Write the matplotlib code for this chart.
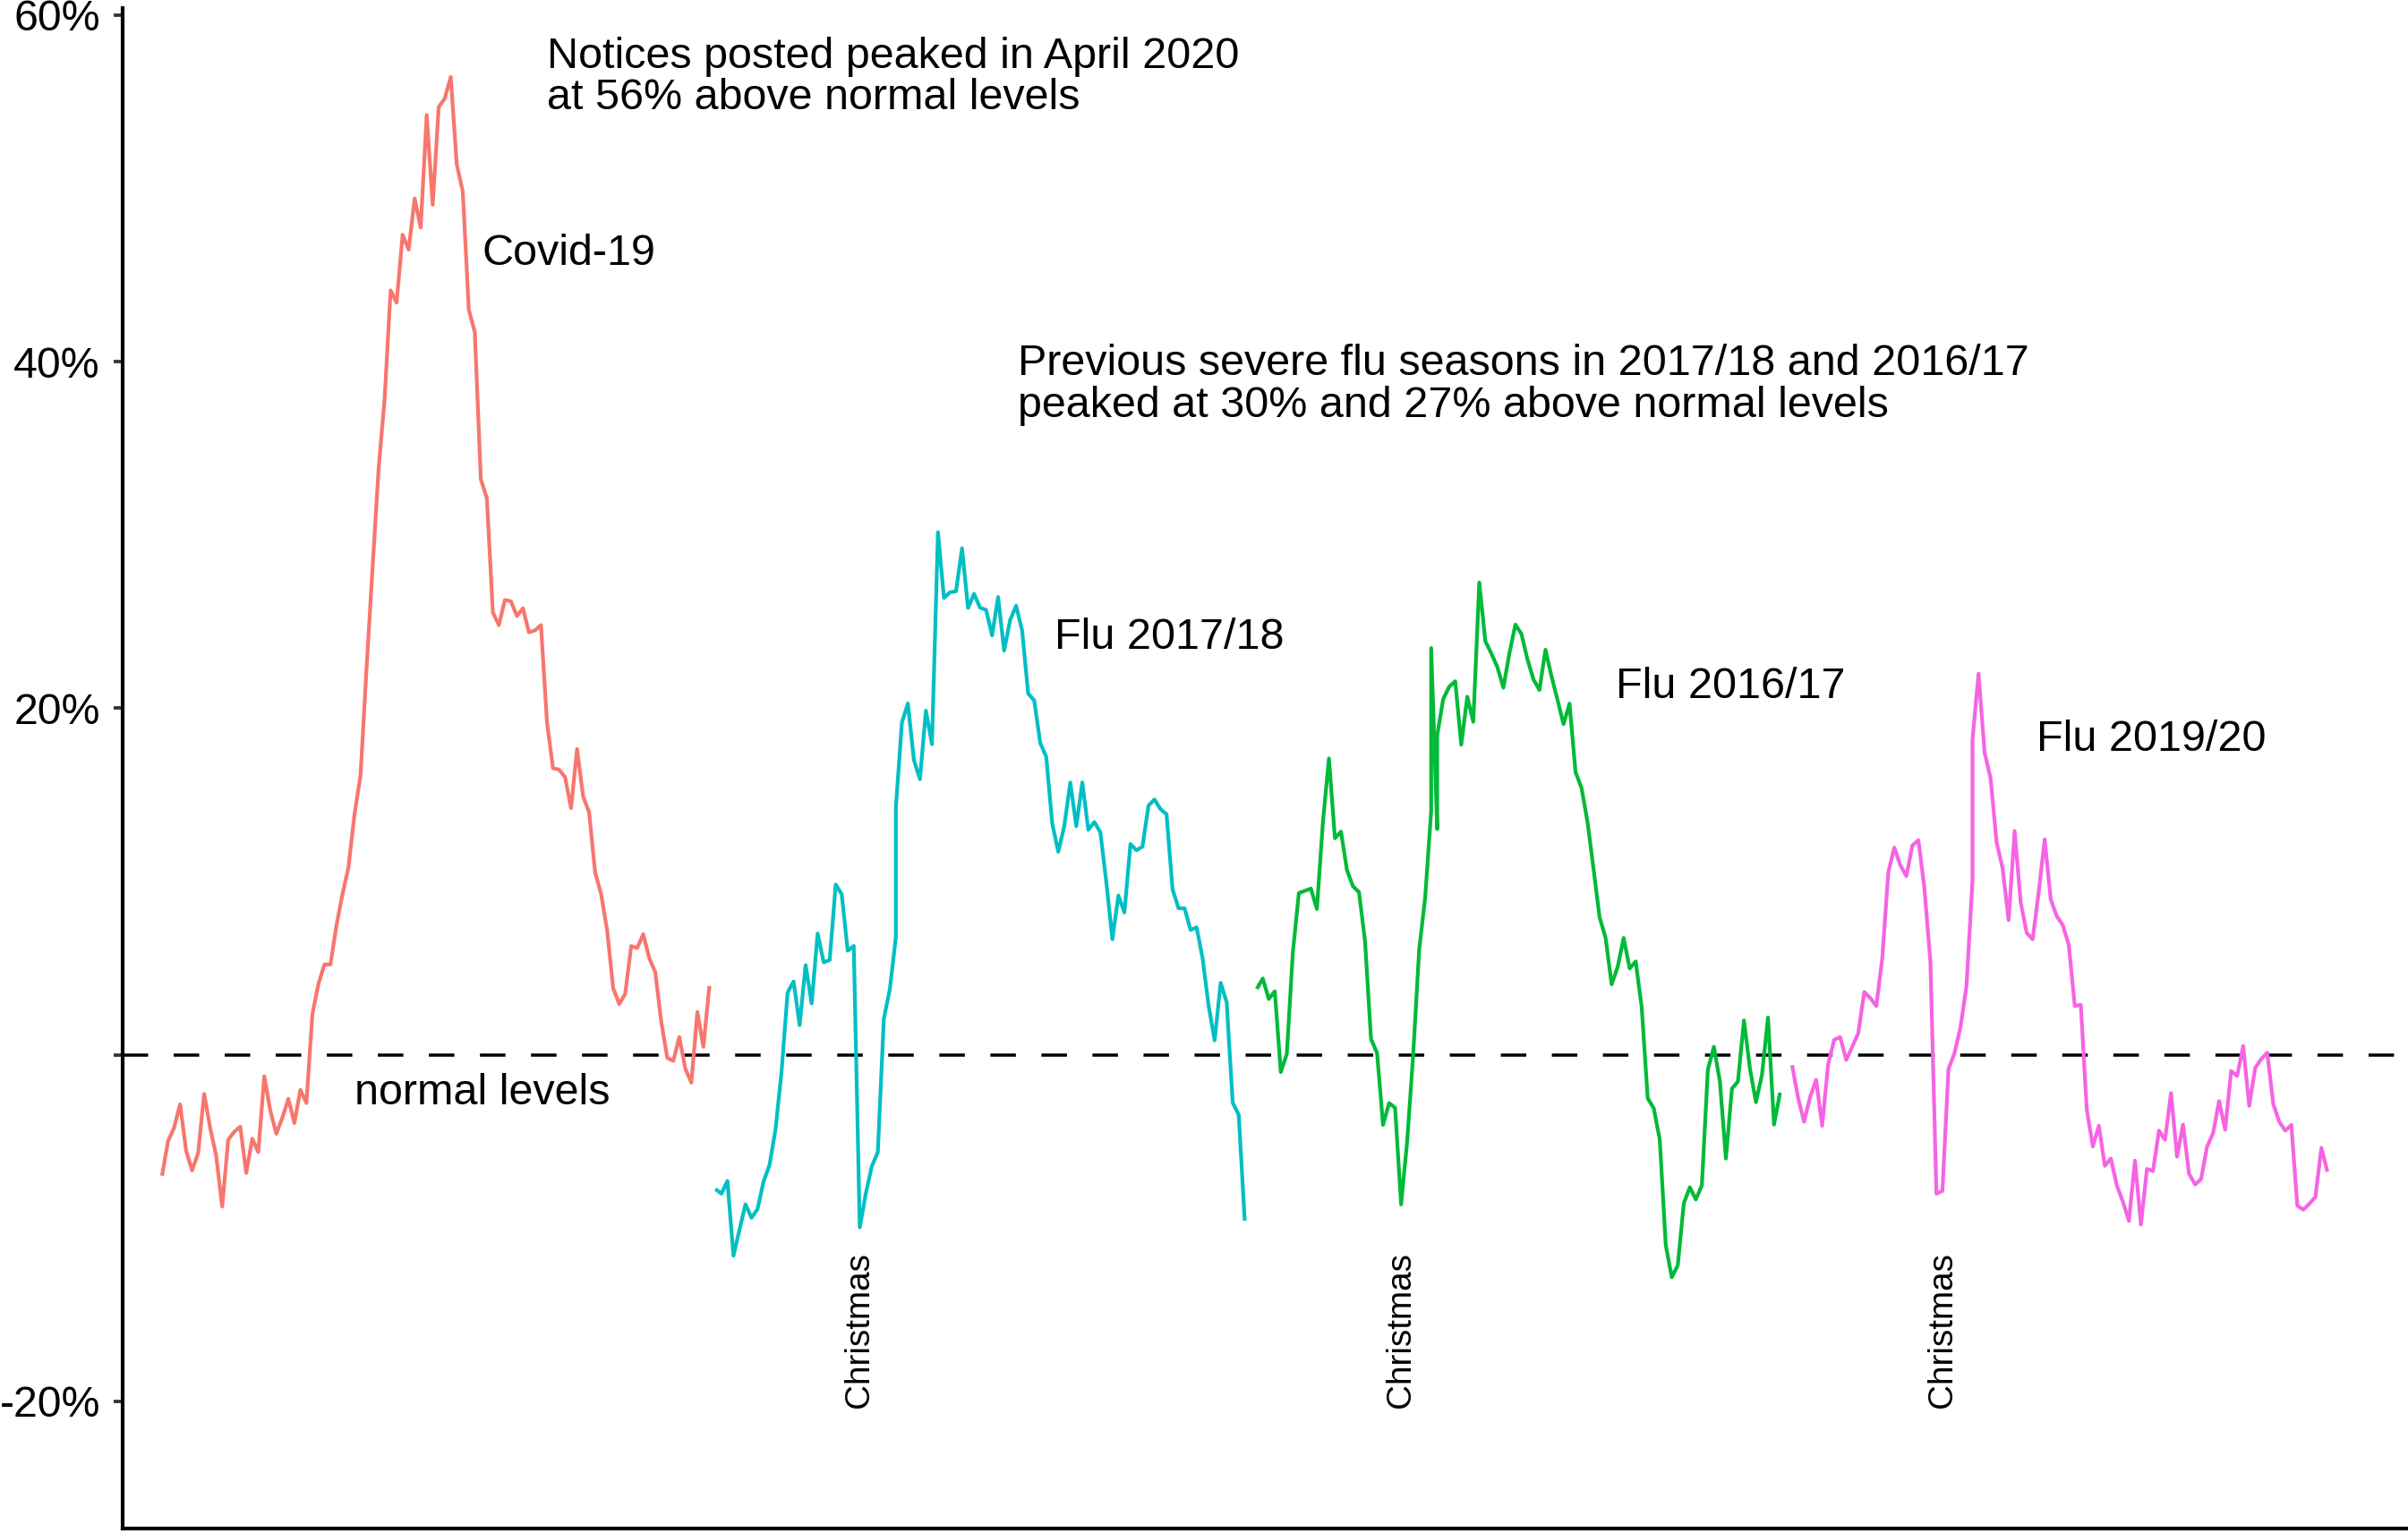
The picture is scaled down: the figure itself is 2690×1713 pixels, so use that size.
import numpy as np
import matplotlib
matplotlib.use("Agg")
import matplotlib.pyplot as plt

plt.rcParams['font.family'] = ['Liberation Sans', 'DejaVu Sans']

# ---------------- data (percent above normal levels) ----------------
covid_day = np.arange(0, 92)
covid = [-6.98, -4.98, -4.22, -2.86, -5.53, -6.68, -5.67, -2.26, -4.22, -5.83,
         -8.76, -4.91, -4.45, -4.15, -6.82, -4.84, -5.62, -1.24, -3.22, -4.56,
         -3.64, -2.54, -3.94, -2.03, -2.79, 2.35, 4.08, 5.21, 5.21, 7.47,
         9.27, 10.83, 13.88, 16.12, 22.3, 28.1, 33.78, 37.82, 44.11, 43.40,
         47.32, 46.46, 49.41, 47.73, 54.23, 49.05, 54.69, 55.18, 56.42, 51.37,
         49.81, 43.0, 41.69, 33.21, 32.12, 25.53, 24.79, 26.24, 26.17, 25.32,
         25.76, 24.38, 24.49, 24.79, 19.18, 16.53, 16.46, 16.02, 14.23, 17.64,
         14.92, 13.99, 10.53, 9.27, 7.19, 3.85, 2.93, 3.51, 6.27, 6.16,
         6.96, 5.58, 4.77, 1.89, -0.18, -0.35, 1.02, -0.81, -1.61, 2.47,
         0.46, 3.97]

flu1718_day = np.r_[np.arange(92, 123), np.arange(122, 181)]
flu1718 = [-7.75, -8.02, -7.28, -11.6, -10.1, -8.63, -9.41, -8.91, -7.33, -6.36,
           -4.29, -0.97, 3.59, 4.23, 1.71, 5.17, 2.96, 7.0, 5.33, 5.47,
           9.82, 9.26, 6.0, 6.28, -9.96, -8.02, -6.44, -5.62, 2.07, 3.78,
           6.78, 14.24, 19.16, 20.27, 17.01, 15.9, 19.86, 17.92, 30.15, 26.36,
           26.69, 26.74, 29.23, 25.78, 26.6, 25.8, 25.67, 24.2, 26.41, 23.32,
           25.09, 25.91, 24.46, 20.84, 20.45, 18.0, 17.19, 13.34, 11.71, 13.19,
           15.71, 13.19, 15.71, 12.98, 13.43, 12.84, 9.93, 6.67, 9.19, 8.21,
           12.16, 11.8, 12.01, 14.38, 14.73, 14.17, 13.88, 9.55, 8.45, 8.45,
           7.2, 7.35, 5.55, 2.82, 0.83, 4.15, 3.03, -2.76, -3.47, -9.57]

flu1617_day = np.r_[np.arange(182, 212), np.arange(211, 213), np.arange(212, 270)]
flu1617 = [3.8, 4.4, 3.22, 3.66, -1.0, 0.05, 5.9, 9.33, 9.46, 9.59,
           8.41, 13.41, 17.1, 12.49, 12.88, 10.65, 9.72, 9.38, 6.56, 0.9,
           0.11, -4.05, -2.79, -3.06, -8.64, -5.03, -0.03, 6.04, 9.07, 14.07,
           23.47, 13.02, 18.42, 20.53, 21.24, 21.55, 17.89, 20.66, 19.21, 27.25,
           23.87, 23.16, 22.37, 21.18, 23.16, 24.82, 24.29, 22.82, 21.66, 21.05,
           23.37, 21.84, 20.48, 19.08, 20.26, 16.31, 15.39, 13.41, 10.7, 7.93,
           6.74, 4.06, 5.06, 6.74, 4.98, 5.38, 2.74, -2.51, -3.09, -4.89,
           -10.99, -12.84, -12.15, -8.57, -7.65, -8.35, -7.54, -0.85, 0.46, -1.54,
           -5.99, -1.96, -1.54, 1.98, -0.81, -2.74, -1.15, 2.15, -4.03, -2.19]

flu1920_day = np.r_[np.arange(271, 302), np.arange(301, 361)]
flu1920 = [-0.6, -2.49, -3.87, -2.44, -1.45, -4.1, -0.53, 0.86, 1.02, -0.3,
           0.46, 1.24, 3.62, 3.27, 2.81, 5.58, 10.53, 11.96, 10.93, 10.31,
           12.08, 12.38, 9.62, 5.35, -8.02, -7.86, -0.83, 0.09, 1.59, 3.97,
           10.07, 18.19, 21.99, 17.45, 15.96, 12.26, 10.77, 7.77, 12.91, 8.81,
           7.03, 6.66, 9.38, 12.43, 8.97, 8.0, 7.49, 6.34, 2.81, 2.88,
           -3.18, -5.3, -4.1, -6.41, -5.99, -7.56, -8.48, -9.59, -6.11, -9.8,
           -6.59, -6.71, -4.38, -4.91, -2.21, -5.88, -4.03, -6.87, -7.49, -7.17,
           -5.3, -4.52, -2.67, -4.33, -0.94, -1.22, 0.51, -2.95, -0.76, -0.25,
           0.12, -2.84, -3.87, -4.38, -4.05, -8.71, -8.94, -8.6, -8.21, -5.37,
           -6.75]

christmas_day = [116, 206, 296]

y_ticks = [-20, 0, 20, 40, 60]
y_tick_labels = ["-20%", "", "20%", "40%", "60%"]

series_colors = ["#F8766D", "#00BFC4", "#00BA38", "#F564E3"]

# ---------------- figure ----------------
W, H, DPI = 2690, 1713, 300
fig = plt.figure(figsize=(W / DPI, H / DPI), dpi=DPI)
ax = fig.add_axes([137 / W, 5 / H, 1 - 137 / W, (1704 - 5) / H])

ax.axhline(0, color="black", lw=0.85, linestyle=(0, (8.05, 8.05)), zorder=1)

for (xd, yd), col in zip([(covid_day, covid), (flu1718_day, flu1718),
                          (flu1617_day, flu1617), (flu1920_day, flu1920)],
                         series_colors):
    ax.plot(xd, yd, color=col, lw=1.0, solid_joinstyle="round",
            solid_capstyle="butt", zorder=2)

ax.set_xlim(-6.55, 373.4)
ax.set_ylim(-27.34, 60.40)

for s in ["top", "right"]:
    ax.spines[s].set_visible(False)
for s in ["left", "bottom"]:
    ax.spines[s].set_linewidth(1.0)
    ax.spines[s].set_color("black")

ax.set_xticks([])
ax.set_yticks(y_ticks)
ax.set_yticklabels(y_tick_labels)
ax.tick_params(axis="y", length=2.4, width=0.9, color="#333333", pad=3.6,
               labelsize=11.6, labelcolor="black")

fs = 11.65
ax.text(64.0, 56.96, "Notices posted peaked in April 2020", fontsize=fs,
        ha="left", va="baseline")
ax.text(64.0, 54.54, "at 56% above normal levels", fontsize=fs,
        ha="left", va="baseline")
ax.text(53.2, 45.6, "Covid-19", fontsize=fs, ha="left", va="baseline")
ax.text(142.3, 39.23, "Previous severe flu seasons in 2017/18 and 2016/17",
        fontsize=fs, ha="left", va="baseline")
ax.text(142.3, 36.80, "peaked at 30% and 27% above normal levels",
        fontsize=fs, ha="left", va="baseline")
ax.text(148.4, 23.42, "Flu 2017/18", fontsize=fs, ha="left", va="baseline")
ax.text(241.7, 20.6, "Flu 2016/17", fontsize=fs, ha="left", va="baseline")
ax.text(311.6, 17.52, "Flu 2019/20", fontsize=fs, ha="left", va="baseline")
ax.text(32.0, -2.84, "normal levels", fontsize=fs, ha="left", va="baseline")

for d in christmas_day:
    ax.text(d, -15.9, "Christmas", fontsize=9.3, rotation=90,
            ha="center", va="center")

fig.savefig("out.png", dpi=DPI)
